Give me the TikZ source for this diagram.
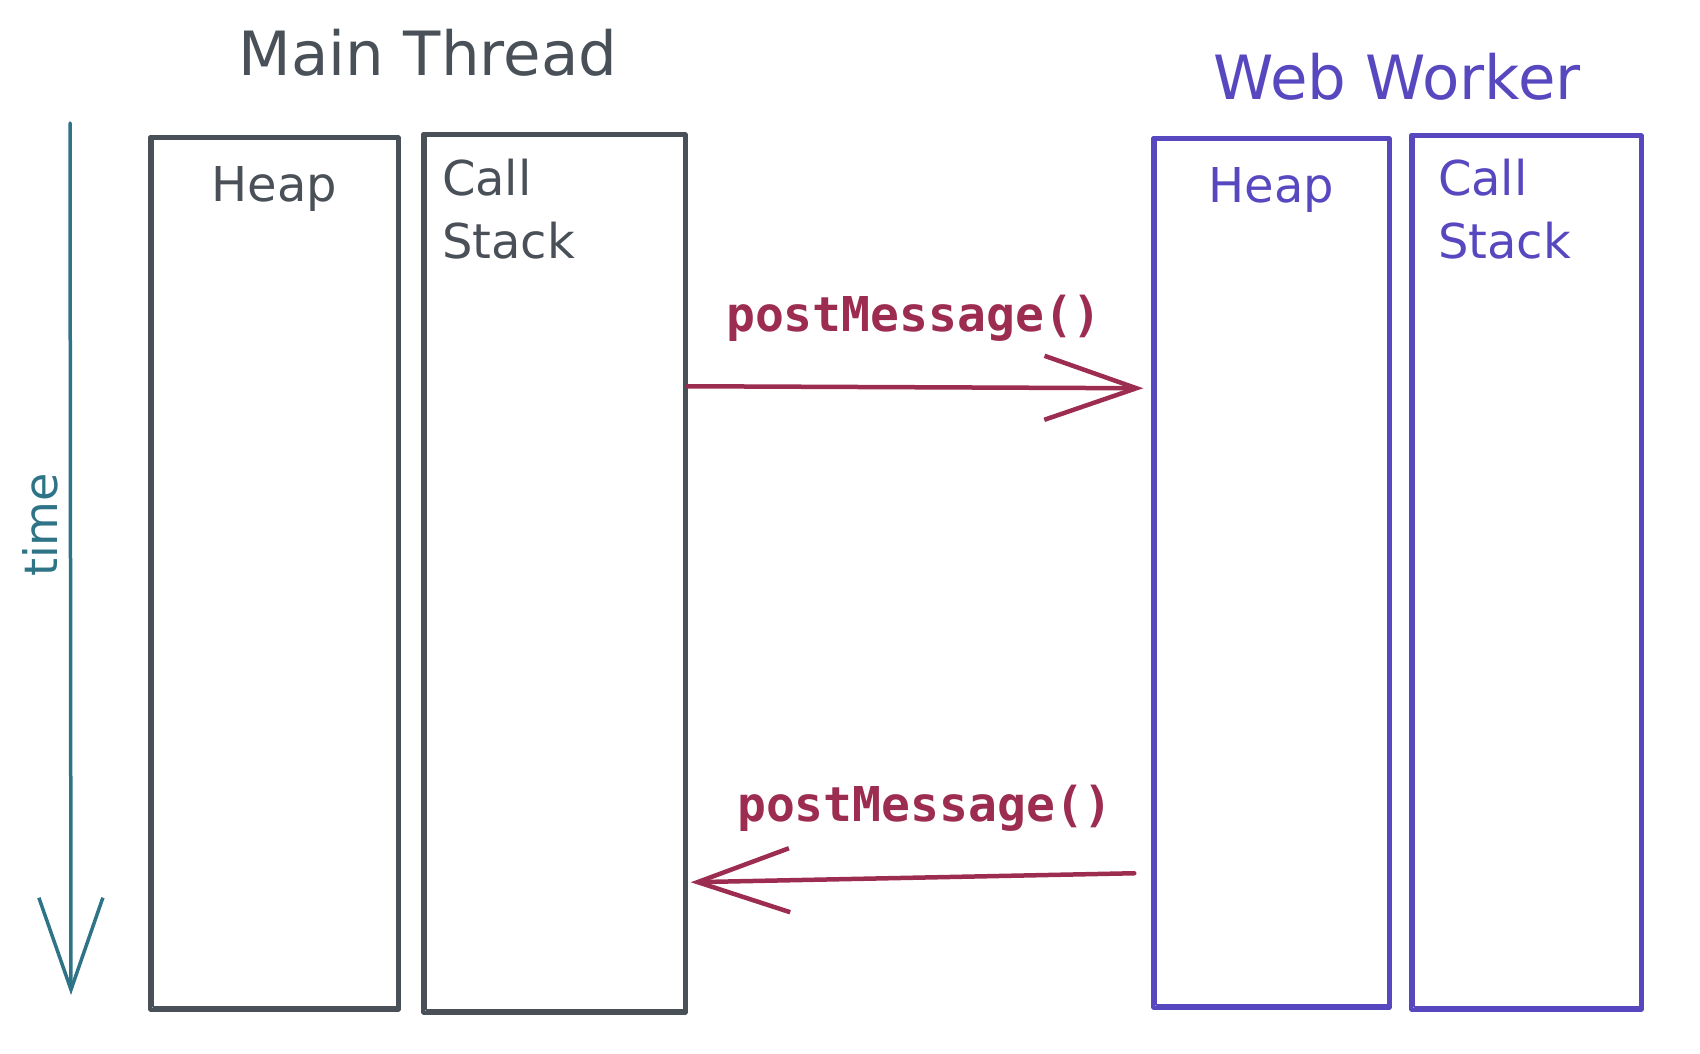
\documentclass[tikz,border=0pt]{standalone}
\usepackage{fontspec}
\setmainfont{DejaVu Sans}
\newfontfamily\codefont{DejaVu Sans Mono}
\usetikzlibrary{arrows.meta,positioning}
\definecolor{mtgray}{HTML}{495057}
\definecolor{wwpurple}{HTML}{5848C0}
\definecolor{msgred}{HTML}{9C2C50}
\definecolor{timeteal}{HTML}{2F7486}

\begin{document}
\begin{tikzpicture}[x=1pt,y=-1pt,line width=3.5pt,line cap=round,line join=round,>={Straight Barb[length=92pt,width=64pt]},col/.style={draw,rectangle,inner sep=0pt},ttl/.style={anchor=base,inner sep=0pt,font=\fontsize{61}{70}\selectfont},lbl/.style={inner sep=0pt,font=\fontsize{48}{63}\selectfont},msg/.style={msgred,line width=4.5pt,->},code/.style={anchor=base,inner sep=0pt,text=msgred,font=\codefont\bfseries\fontsize{48}{60}\selectfont}]
\useasboundingbox (0,0) rectangle (1700,1054);
\node[col,mtgray,minimum width=249pt,minimum height=873pt] (heapM) at (274.5,573.5){};
\node[col,mtgray,minimum width=263pt,minimum height=879pt] (csM) at (554.5,573.5){};
\node[col,wwpurple,minimum width=237pt,minimum height=870pt] (heapW) at (1271.5,573){};
\node[col,wwpurple,minimum width=231pt,minimum height=875pt] (csW) at (1526.5,572.5){};
\foreach \b/\c in {heapM/mtgray,csM/mtgray,heapW/wwpurple,csW/wwpurple}{\draw[\c,line width=2pt] ([shift={(5pt,-4pt)}]\b.north west) rectangle ([shift={(-4pt,5pt)}]\b.south east);};
\node[ttl,mtgray] (mainT) at (428,76) {Main Thread};
\node[ttl,wwpurple] (workerT) at (1397,100) {Web Worker};
\node[lbl,mtgray,below=30pt of heapM.north] (heapMt) {Heap};
\node[lbl,mtgray,align=left,below right=25pt and 19pt of csM.north west] (csMt) {Call\\Stack};
\node[lbl,wwpurple,below=30pt of heapW.north] (heapWt) {Heap};
\node[lbl,wwpurple,align=left,below right=24pt and 27pt of csW.north west] (csWt) {Call\\Stack};
\coordinate (t0) at (70,123);
\coordinate (t1) at (71,995);
\draw[timeteal,->] (t0) -- (t1);
\node[timeteal,rotate=90,inner sep=0pt,font=\fontsize{46}{55}\selectfont] (timeL) at (40,525) {time};
\draw[msg] ([yshift=-254pt]csM.north east) -- ([shift={(-8pt,-252pt)}]heapW.north west);
\node[code] (msg1) at (914,331) {postMessage()};
\draw[msg] ([shift={(-17pt,-737pt)}]heapW.north west) -- ([shift={(3pt,-750pt)}]csM.north east);
\node[code] (msg2) at (925,821) {postMessage()};
\end{tikzpicture}
\end{document}
